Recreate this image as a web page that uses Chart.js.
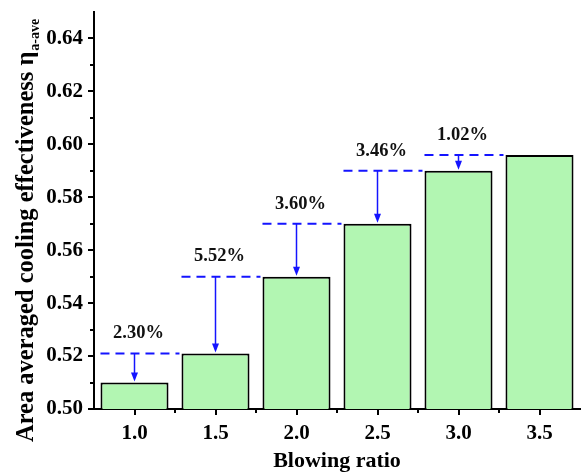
<!DOCTYPE html>
<html>
<head>
<meta charset="utf-8">
<script src="https://cdn.jsdelivr.net/npm/chart.js@4.4.1/dist/chart.umd.min.js"></script>
<style>
  html, body { margin: 0; padding: 0; background: #ffffff; }
  #wrap { width: 581px; height: 476px; position: relative; }
</style>
</head>
<body>
<div id="wrap"><canvas id="c" width="581" height="476"></canvas></div>
<script>
// ---- data ----
const categories = ['1.0', '1.5', '2.0', '2.5', '3.0', '3.5'];
const effectiveness = [0.510, 0.521, 0.550, 0.570, 0.590, 0.596];
const increaseLabels = ['2.30%', '5.52%', '3.60%', '3.46%', '1.02%'];
const yTicks = [0.50, 0.52, 0.54, 0.56, 0.58, 0.60, 0.62, 0.64];
const yMinorTicks = [0.51, 0.53, 0.55, 0.57, 0.59, 0.61, 0.63];
const yMin = 0.50, yMax = 0.65;

const FONT = '"Liberation Serif", "Times New Roman", serif';
const BLUE = '#1414ff';

const tickPlugin = {
  id: 'tickMarks',
  afterDraw(chart) {
    const ctx = chart.ctx;
    const y = chart.scales.y, x = chart.scales.x;
    const ca = chart.chartArea;
    ctx.save();
    ctx.strokeStyle = '#000';
    ctx.lineWidth = 2;
    ctx.beginPath();
    yTicks.forEach(v => {
      const py = Math.round(y.getPixelForValue(v));
      ctx.moveTo(ca.left, py); ctx.lineTo(ca.left - 6, py);
    });
    yMinorTicks.forEach(v => {
      const py = Math.round(y.getPixelForValue(v));
      ctx.moveTo(ca.left, py); ctx.lineTo(ca.left - 4, py);
    });
    const n = categories.length;
    for (let i = 0; i < n; i++) {
      const px = Math.round(x.getPixelForTick(i));
      ctx.moveTo(px, ca.bottom); ctx.lineTo(px, ca.bottom + 6);
      if (i < n - 1) {
        const bx = Math.round((x.getPixelForTick(i) + x.getPixelForTick(i + 1)) / 2);
        ctx.moveTo(bx, ca.bottom); ctx.lineTo(bx, ca.bottom + 4);
      }
    }
    ctx.stroke();

    // y-axis title with subscript
    const main = 'Area averaged cooling effectiveness η';
    const sub = 'a-ave';
    ctx.fillStyle = '#000';
    ctx.font = 'bold 24.5px ' + FONT;
    const w = ctx.measureText(main).width;
    ctx.translate(33, 442);
    ctx.rotate(-Math.PI / 2);
    ctx.textAlign = 'left';
    ctx.textBaseline = 'alphabetic';
    ctx.fillText(main, 0, 0);
    ctx.font = 'bold 14px ' + FONT;
    ctx.fillText(sub, w + 1, 6);
    ctx.restore();
  }
};

const annotationPlugin = {
  id: 'increaseAnnotations',
  afterDatasetsDraw(chart) {
    const ctx = chart.ctx;
    const bars = chart.getDatasetMeta(0).data;
    const y = chart.scales.y;
    ctx.save();
    for (let i = 0; i < bars.length - 1; i++) {
      const b = bars[i], nb = bars[i + 1];
      const level = y.getPixelForValue(effectiveness[i + 1]);
      const x0 = b.x - b.width / 2;
      const x1 = nb.x - nb.width / 2 - 2;
      // dashed line
      ctx.strokeStyle = BLUE;
      ctx.lineWidth = 2;
      ctx.setLineDash([9, 6]);
      ctx.beginPath();
      ctx.moveTo(x0, level); ctx.lineTo(x1, level);
      ctx.stroke();
      ctx.setLineDash([]);
      // arrow
      const top = b.y - 1;
      ctx.lineWidth = 1.5;
      ctx.beginPath();
      ctx.moveTo(b.x, level); ctx.lineTo(b.x, top - 7);
      ctx.stroke();
      ctx.fillStyle = BLUE;
      ctx.beginPath();
      ctx.moveTo(b.x - 3.5, top - 9);
      ctx.lineTo(b.x + 3.5, top - 9);
      ctx.lineTo(b.x, top);
      ctx.closePath();
      ctx.fill();
      // label
      ctx.fillStyle = '#111';
      ctx.font = 'bold 18.5px ' + FONT;
      ctx.textAlign = 'center';
      ctx.textBaseline = 'middle';
      ctx.fillText(increaseLabels[i], b.x + 4, level - 20);
    }
    ctx.restore();
  }
};

new Chart(document.getElementById('c'), {
  type: 'bar',
  data: {
    labels: categories,
    datasets: [{
      data: effectiveness,
      backgroundColor: '#b2f6b2',
      borderColor: '#000000',
      borderWidth: 2,
      borderSkipped: false,
      barPercentage: 0.84,
      categoryPercentage: 1.0
    }]
  },
  options: {
    responsive: false,
    animation: false,
    devicePixelRatio: 1,
    layout: { padding: { left: 0, right: 1, top: 12, bottom: 0 } },
    plugins: { legend: { display: false }, tooltip: { enabled: false } },
    scales: {
      x: {
        offset: true,
        grid: { display: false, drawTicks: false },
        border: { display: true, color: '#000', width: 2 },
        ticks: { color: '#000', font: { family: FONT, size: 21, weight: 'bold' }, padding: 12, maxRotation: 0 },
        title: { display: true, text: 'Blowing ratio', color: '#000', font: { family: FONT, size: 22, weight: 'bold' }, padding: { top: 0, bottom: 1 } },
        afterFit(s) { s.height = 67; s.paddingLeft = 0; s.paddingRight = 0; }
      },
      y: {
        min: yMin, max: yMax,
        grid: { display: false, drawTicks: false },
        border: { display: true, color: '#000', width: 2 },
        ticks: { color: '#000', font: { family: FONT, size: 21, weight: 'bold' }, padding: 11, callback: v => v.toFixed(2) },
        afterBuildTicks(s) { s.ticks = yTicks.map(v => ({ value: v })); },
        afterFit(s) { s.width = 94; s.paddingTop = 0; s.paddingBottom = 0; }
      }
    }
  },
  plugins: [tickPlugin, annotationPlugin]
});
</script>
</body>
</html>
